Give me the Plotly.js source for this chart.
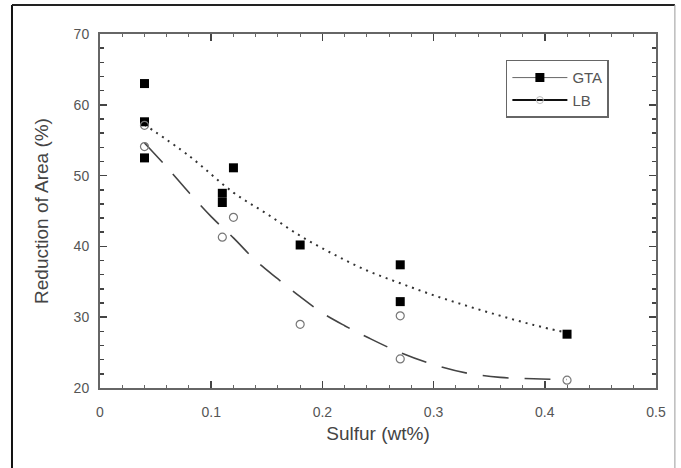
<!DOCTYPE html>
<html>
<head>
<meta charset="utf-8">
<script src="https://cdn.plot.ly/plotly-3.0.1.min.js"></script>
<style>
html,body{margin:0;padding:0;background:#fff;}
#chart{width:681px;height:468px;}
</style>
</head>
<body>
<div id="chart"></div>
<script>
// Measured data
const gtaX = [0.04, 0.04, 0.04, 0.11, 0.11, 0.12, 0.18, 0.27, 0.27, 0.42];
const gtaY = [63.0, 57.6, 52.5, 47.5, 46.2, 51.1, 40.2, 37.4, 32.2, 27.6];
const lbX = [0.04, 0.04, 0.12, 0.11, 0.18, 0.27, 0.27, 0.42];
const lbY = [57.1, 54.1, 44.1, 41.3, 29.0, 30.2, 24.1, 21.1];

// Fit curves
const gtaFitX = [0.04, 0.08, 0.12, 0.15, 0.18, 0.21, 0.24, 0.27, 0.30, 0.33, 0.36, 0.39, 0.42];
const gtaFitY = [57.2, 52.8, 47.6, 44.6, 41.5, 38.9, 36.6, 34.8, 33.1, 31.6, 30.2, 28.9, 27.8];
const lbFitX = [0.04, 0.06, 0.08, 0.10, 0.12, 0.14, 0.16, 0.18, 0.20, 0.22, 0.24, 0.27, 0.30, 0.33, 0.36, 0.39, 0.42];
const lbFitY = [54.6, 51.2, 47.6, 44.2, 41.2, 38.0, 35.4, 32.9, 30.6, 28.8, 27.2, 25.0, 23.3, 22.1, 21.5, 21.3, 21.2];

const seriesNames = ['GTA', 'LB'];
const xTickVals = [0, 0.1, 0.2, 0.3, 0.4, 0.5];
const xTickText = ['0', '0.1', '0.2', '0.3', '0.4', '0.5'];
const yTickVals = [20, 30, 40, 50, 60, 70];
const yTickText = ['20', '30', '40', '50', '60', '70'];

const FONT = 'Liberation Sans, Arial, sans-serif';
const TXT = '#555';

const traces = [
  {x: gtaFitX, y: gtaFitY, mode: 'lines', line: {color: '#333', width: 2, dash: '2px,5px', shape: 'spline'}, showlegend: false, hoverinfo: 'skip'},
  {x: lbFitX, y: lbFitY, mode: 'lines', line: {color: '#444', width: 1.6, dash: '26px,16px', shape: 'spline'}, showlegend: false, hoverinfo: 'skip'},
  {x: gtaX, y: gtaY, mode: 'markers', marker: {symbol: 'square', size: 9, color: '#000'}, showlegend: false},
  {x: lbX, y: lbY, mode: 'markers', marker: {symbol: 'circle-open', size: 8, color: '#777', line: {width: 1.2, color: '#777'}}, showlegend: false},
  {x: [null], y: [null], name: seriesNames[0], mode: 'lines+markers', line: {color: '#666', width: 1}, marker: {symbol: 'square', size: 9, color: '#000'}},
  {x: [null], y: [null], name: seriesNames[1], mode: 'lines+markers', line: {color: '#111', width: 2}, marker: {symbol: 'circle-open', size: 7, color: '#bbb', line: {width: 1, color: '#bbb'}}}
];

const axisCommon = {
  showgrid: false, zeroline: false, showline: true, linecolor: '#666', linewidth: 2,
  mirror: 'ticks', ticks: 'inside', ticklen: 7, tickwidth: 1.5, tickcolor: '#444',
  tickfont: {family: FONT, size: 14, color: TXT}
};

const layout = {
  width: 681, height: 468,
  margin: {l: 100, r: 25, t: 34, b: 80},
  paper_bgcolor: '#fff', plot_bgcolor: '#fff',
  font: {family: FONT, color: TXT},
  xaxis: Object.assign({}, axisCommon, {
    range: [0, 0.5], tickmode: 'array', tickvals: xTickVals, ticktext: xTickText,
    ticklabelstandoff: 10,
    minor: {dtick: 0.02, ticks: 'inside', ticklen: 3, tickwidth: 1, tickcolor: '#666'},
    title: {text: 'Sulfur (wt%)', font: {family: FONT, size: 19, color: '#444'}, standoff: 8}
  }),
  yaxis: Object.assign({}, axisCommon, {
    range: [20, 70], tickmode: 'array', tickvals: yTickVals, ticktext: yTickText,
    ticklabelstandoff: 6,
    minor: {dtick: 2, ticks: 'inside', ticklen: 4, tickwidth: 1.5, tickcolor: '#444'},
    title: {text: 'Reduction of Area (%)', font: {family: FONT, size: 19, color: '#444'}, standoff: 20}
  }),
  legend: {
    x: 0.730, y: 0.927, xanchor: 'left', yanchor: 'top',
    bordercolor: '#666', borderwidth: 1.5, bgcolor: '#fff',
    font: {family: FONT, size: 15, color: TXT},
    itemwidth: 55,
    tracegroupgap: 0
  },
  shapes: [
    {type: 'line', xref: 'paper', yref: 'paper', x0: -0.1583, x1: -0.1583, y0: 1.082, y1: -0.25, line: {color: '#111', width: 2}},
    {type: 'line', xref: 'paper', yref: 'paper', x0: -0.1583, x1: 1.034, y0: 1.082, y1: 1.082, line: {color: '#222', width: 2}},
    {type: 'line', xref: 'paper', yref: 'paper', x0: 1.034, x1: 1.034, y0: 1.082, y1: -0.25, line: {color: '#999', width: 1}}
  ]
};

Plotly.newPlot('chart', traces, layout, {displayModeBar: false, staticPlot: true});
</script>
</body>
</html>
